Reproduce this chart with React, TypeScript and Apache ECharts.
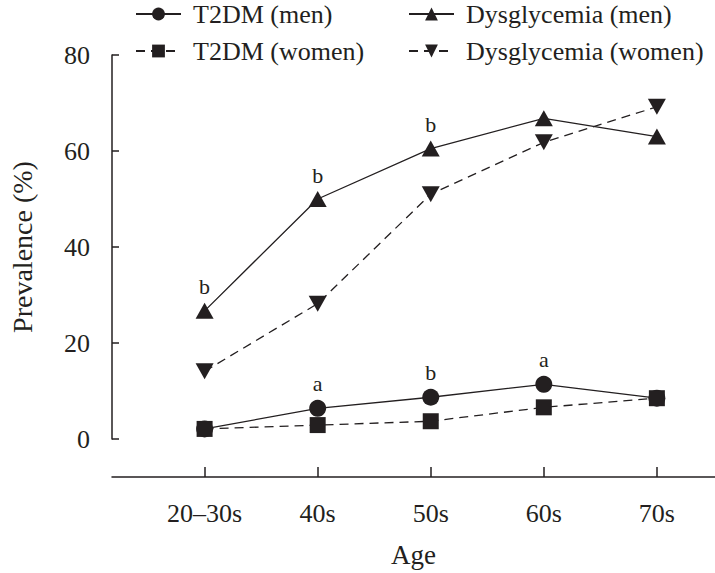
import React, { useEffect, useRef } from "react";
import * as echarts from "echarts";

const ageGroups = ["20\u201330s", "40s", "50s", "60s", "70s"];
const yTicks = [0, 20, 40, 60, 80];

const t2dmMen = [2.1, 6.4, 8.7, 11.4, 8.5];
const t2dmWomen = [2.1, 2.9, 3.7, 6.6, 8.5];
const dysMen = [26.7, 50.0, 60.5, 66.8, 63.0];
const dysWomen = [14.1, 28.2, 51.0, 61.8, 69.2];

const t2dmMenSig = ["", "a", "b", "a", ""];
const dysMenSig = ["b", "b", "b", "", ""];

const INK = "#231f20";
const FONT = "Liberation Serif";
const DOWN_TRI = "path://M0,0 L20,0 L10,18 Z";

export default function App() {
  const ref = useRef<HTMLDivElement>(null);

  useEffect(() => {
    if (!ref.current) return;
    const chart = echarts.init(ref.current, null, { renderer: "svg" });

    const toData = (vals: number[]) => vals.map((v, i) => [i, v]);
    const sigLabel = (sig: string[]) => ({
      show: true,
      position: "top" as const,
      distance: 5,
      color: INK,
      fontFamily: FONT,
      fontSize: 22,
      formatter: (p: any) => sig[p.dataIndex] || "",
    });

    const base = {
      type: "line" as const,
      color: INK,
      itemStyle: { color: INK },
      showAllSymbol: true,
      z: 3,
    };

    const legendCommon = {
      orient: "vertical" as const,
      top: 1,
      itemGap: 11,
      itemWidth: 45,
      itemHeight: 16,
      padding: 0,
      textStyle: {
        color: INK,
        fontFamily: FONT,
        fontSize: 26,
        padding: [0, 0, 0, 7],
      },
    };

    chart.setOption({
      animation: false,
      backgroundColor: "#ffffff",
      textStyle: { fontFamily: FONT, color: INK },
      legend: [
        { ...legendCommon, left: 135, data: ["T2DM (men)", "T2DM (women)"] },
        { ...legendCommon, left: 408, data: ["Dysglycemia (men)", "Dysglycemia (women)"] },
      ],
      grid: { left: 103, right: 0, top: 55, bottom: 132, containLabel: false },
      xAxis: {
        type: "value",
        min: -0.819,
        max: 4.514,
        offset: 38,
        name: "Age",
        nameLocation: "middle",
        nameGap: 64,
        nameTextStyle: { color: INK, fontFamily: FONT, fontSize: 27 },
        axisLine: { onZero: false, lineStyle: { color: INK, width: 1.5 } },
        axisTick: {
          show: true,
          inside: true,
          length: 10,
          customValues: [0, 1, 2, 3, 4],
          lineStyle: { color: INK, width: 1.5 },
        },
        axisLabel: {
          show: true,
          margin: 23,
          color: INK,
          fontFamily: FONT,
          fontSize: 26,
          customValues: [0, 1, 2, 3, 4],
          formatter: (v: number) => ageGroups[Math.round(v)] ?? "",
        },
        splitLine: { show: false },
      },
      yAxis: {
        type: "value",
        min: 0,
        max: 80,
        interval: 20,
        name: "Prevalence (%)",
        nameLocation: "middle",
        nameGap: 76,
        nameTextStyle: { color: INK, fontFamily: FONT, fontSize: 28 },
        axisLine: { show: true, onZero: false, lineStyle: { color: INK, width: 1.5 } },
        axisTick: { show: true, inside: true, length: 7, lineStyle: { color: INK, width: 1.5 } },
        axisLabel: {
          margin: 22,
          color: INK,
          fontFamily: FONT,
          fontSize: 26,
          customValues: yTicks,
        },
        splitLine: { show: false },
      },
      series: [
        {
          ...base,
          name: "T2DM (men)",
          data: toData(t2dmMen),
          symbol: "circle",
          symbolSize: 17,
          lineStyle: { color: INK, width: 1.3, type: "solid" },
          label: sigLabel(t2dmMenSig),
        },
        {
          ...base,
          name: "T2DM (women)",
          data: toData(t2dmWomen),
          symbol: "rect",
          symbolSize: 16,
          lineStyle: { color: INK, width: 1.3, type: [9, 6] },
        },
        {
          ...base,
          name: "Dysglycemia (men)",
          data: toData(dysMen),
          symbol: "triangle",
          symbolSize: [18, 16],
          lineStyle: { color: INK, width: 1.3, type: "solid" },
          label: sigLabel(dysMenSig),
        },
        {
          ...base,
          name: "Dysglycemia (women)",
          data: toData(dysWomen),
          symbol: DOWN_TRI,
          symbolSize: [18, 16],
          lineStyle: { color: INK, width: 1.3, type: [9, 6] },
        },
      ],
    });

    return () => chart.dispose();
  }, []);

  return (
    <div
      ref={ref}
      style={{ position: "fixed", left: 0, top: 0, width: 715, height: 573 }}
    />
  );
}
